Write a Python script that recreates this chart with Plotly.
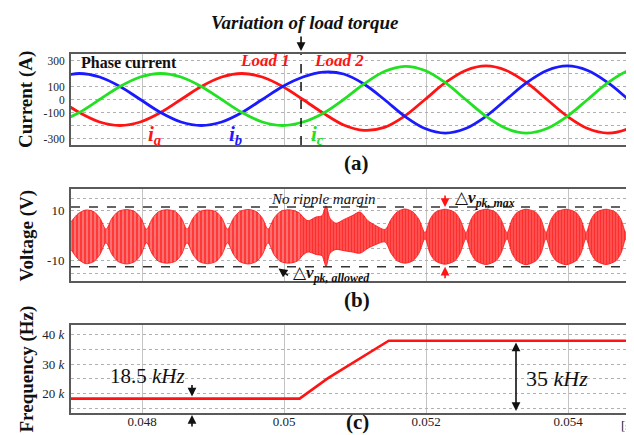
import plotly.graph_objects as go

# ---------------- data ----------------
# (a) phase currents [A]
t_cur = [0.046830, 0.047117, 0.047403, 0.047690, 0.047976, 0.048262, 0.048549, 0.048835,
         0.049122, 0.049408, 0.049694, 0.049981, 0.050267, 0.050554, 0.050840, 0.051126,
         0.051413, 0.051699, 0.051986, 0.052272, 0.052558, 0.052845, 0.053131, 0.053418,
         0.053704, 0.053990, 0.054277, 0.054563, 0.054850, 0.055136]
i_a = [0, -100, -173, -200, -173, -100, 0, 100, 173, 200, 173, 100, 0, -105, -196, -237,
       -215, -128, 0, 129, 223, 258, 223, 129, 0, -129, -223, -258, -223, -129]
i_b = [173, 200, 173, 100, 0, -100, -173, -200, -173, -100, 0, 100, 173, 210, 196, 119,
       0, -128, -223, -258, -223, -129, 0, 129, 223, 258, 223, 129, 0, -129]
i_c = [-173, -100, 0, 100, 173, 200, 173, 100, 0, -100, -173, -200, -173, -105, 0, 119,
       215, 255, 223, 129, 0, -129, -223, -258, -223, -129, 0, 129, 223, 258]
t_load_change = 0.05024

# (b) voltage ripple envelope [V]
t_v = [0.047000, 0.047099, 0.047211, 0.047324, 0.047408, 0.047493, 0.047577, 0.047662,
       0.047782, 0.047901, 0.047986, 0.048063, 0.048148, 0.048232, 0.048352, 0.048472,
       0.048556, 0.048634, 0.048718, 0.048803, 0.048923, 0.049042, 0.049127, 0.049204,
       0.049289, 0.049373, 0.049493, 0.049613, 0.049697, 0.049775, 0.049859, 0.049944,
       0.050063, 0.050183, 0.050239,
       0.050338, 0.050451, 0.050535, 0.050592, 0.050648, 0.050732, 0.050845, 0.050958,
       0.051070, 0.051183, 0.051296, 0.051423, 0.051507, 0.051592, 0.051704, 0.051817,
       0.051901, 0.051986, 0.052056, 0.052127, 0.052268, 0.052408, 0.052479, 0.052563,
       0.052634, 0.052704, 0.052845, 0.052986, 0.053056, 0.053141, 0.053211, 0.053282,
       0.053408, 0.053549, 0.053620, 0.053690, 0.053761, 0.053831, 0.053972, 0.054113,
       0.054183, 0.054254, 0.054324, 0.054394, 0.054535, 0.054676, 0.054746, 0.054817,
       0.054887, 0.054958, 0.055028]
v_up = [5.5, 8.8, 10.3, 9.6, 7.0, 2.6, 7.0, 9.6, 10.5, 9.6, 7.0, 2.6, 7.0, 9.6, 10.4, 9.6,
        7.0, 2.6, 7.0, 9.6, 10.3, 9.6, 7.0, 2.6, 7.0, 9.6, 10.5, 9.6, 7.0, 2.6, 7.0, 9.6,
        10.4, 9.6, 8.4,
        6.0, 7.5, 8.0, 12.0, 7.0, 5.0, 6.5, 8.0, 9.5, 6.0, 4.0, 2.5, 6.5, 9.5, 10.7, 9.5,
        6.5, 1.2, 6.5, 9.3, 10.6, 9.3, 6.5, 1.2, 6.5, 9.3, 10.6, 9.3, 6.5, 1.2, 6.5, 9.3,
        10.6, 9.3, 6.5, 1.2, 6.5, 9.3, 10.6, 9.3, 6.5, 1.2, 6.5, 9.3, 10.6, 9.3, 6.5, 1.2,
        6.5, 9.3, 10.4]
v_lo = [-5.5, -9.3, -11.2, -10.3, -7.5, -2.8, -7.5, -10.3, -11.3, -10.3, -7.5, -2.8, -7.5,
        -10.2, -11.0, -10.2, -7.5, -2.8, -7.5, -10.3, -11.2, -10.3, -7.5, -2.8, -7.5, -10.3,
        -11.3, -10.3, -7.5, -2.8, -7.5, -10.2, -11.0, -10.2, -8.5,
        -6.5, -7.5, -8.0, -12.3, -7.0, -5.5, -6.0, -6.5, -7.0, -5.0, -3.5, -2.5, -7.0, -10.0,
        -11.0, -10.0, -7.0, -1.2, -7.0, -10.0, -11.4, -10.0, -7.0, -1.2, -7.0, -10.0, -11.5,
        -10.0, -7.0, -1.2, -7.0, -10.0, -11.6, -10.0, -7.0, -1.2, -7.0, -10.0, -11.6, -10.0,
        -7.0, -1.2, -7.0, -10.0, -11.5, -10.0, -7.0, -1.2, -7.0, -10.0, -11.2]
ripple_margin = [11.5, -12.4]

# (c) switching frequency [Hz]
t_f = [0.047000, 0.050220, 0.050620, 0.051475, 0.055028]
f_sw = [18200, 18200, 25200, 37950, 37950]

# tick labels
x_ticks = [0.048, 0.050, 0.052, 0.054]
x_ticktext = ["0.048", "0.05", "0.052", "0.054"]
x_unit = "[s]"
ya_ticks = [-300, -200, -100, 0, 100, 200, 300]
ya_text = ["-300", "", "-100", "0", "100", "", "300"]
yb_ticks = [-15, -10, -5, 0, 5, 10, 15]
yb_text = ["", "-10", "", "", "", "10", ""]
yc_ticks = [15000, 20000, 25000, 30000, 35000, 40000]
yc_text = ["", "20 <i>k</i>", "", "30 <i>k</i>", "", "40 <i>k</i>"]

# ---------------- figure ----------------
W, H, ML, MR = 634, 435, 63, 1
PW = W - ML - MR
SERIF = "Times New Roman, Liberation Serif, DejaVu Serif, serif"


def px(x):
    return (x - ML) / PW


def py(y):
    return 1 - y / H


fig = go.Figure()
for y, col in ((i_a, "#ff1414"), (i_b, "#1a1aff"), (i_c, "#22e022")):
    fig.add_trace(go.Scatter(x=t_cur, y=y, mode="lines", xaxis="x", yaxis="y",
                             line=dict(color=col, width=2.8, shape="spline"),
                             showlegend=False, hoverinfo="skip"))

# voltage ripple: two bands (before / after load change) with vertical hatching
for before, size, bg in ((True, 4, "#ff7070"), (False, 3, "#ff5c5c")):
    idx = [k for k, t in enumerate(t_v)
           if (t <= t_load_change + 1e-9) == before or abs(t - 0.050239) < 1e-9]
    ts = [t_v[k] for k in idx]
    up = [v_up[k] for k in idx]
    lo = [v_lo[k] for k in idx]
    fig.add_trace(go.Scatter(x=ts + ts[::-1], y=up + lo[::-1], mode="lines", xaxis="x2", yaxis="y2",
                             fill="toself",
                             line=dict(color="#ff1010", width=0.8, shape="spline", smoothing=0.8),
                             fillpattern=dict(shape="|", size=size, solidity=0.5,
                                              fgcolor="#ff0000", bgcolor=bg),
                             showlegend=False, hoverinfo="skip"))

fig.add_trace(go.Scatter(x=t_f, y=f_sw, mode="lines", xaxis="x3", yaxis="y3",
                         line=dict(color="#ff1414", width=2.6), showlegend=False, hoverinfo="skip"))

xrange_ = [0.047, 0.055028]
ax_common = dict(range=xrange_, tickvals=x_ticks, ticktext=x_ticktext, showgrid=True,
                 gridcolor="#c4c4c4", gridwidth=1, zeroline=False, showline=True, mirror=True,
                 linecolor="#5a5a5a", linewidth=2, ticks="", ticklen=0,
                 tickfont=dict(family=SERIF, size=13, color="#222"))
ay_common = dict(showgrid=True, gridcolor="#b0b0b0", gridwidth=1, griddash="dot", zeroline=False,
                 showline=True, mirror=True, linecolor="#5a5a5a", linewidth=2, ticks="",
                 tickfont=dict(family=SERIF, size=13, color="#222"), ticklabelstandoff=2)

fig.update_layout(
    width=W, height=H, margin=dict(l=ML, r=MR, t=0, b=0),
    paper_bgcolor="white", plot_bgcolor="white", showlegend=False,
    font=dict(family=SERIF),
    xaxis=dict(ax_common, anchor="y", domain=[0, 1], showticklabels=False),
    xaxis2=dict(ax_common, anchor="y2", domain=[0, 1], showticklabels=False, matches="x"),
    xaxis3=dict(ax_common, anchor="y3", domain=[0, 1], matches="x", ticklabelstandoff=-5),
    yaxis=dict(ay_common, anchor="x", domain=[1 - 137 / H, 1 - 46 / H], range=[-350, 350],
               tickvals=ya_ticks, ticktext=ya_text, tickfont=dict(family=SERIF, size=11.5, color="#222")),
    yaxis2=dict(ay_common, anchor="x2", domain=[1 - 273 / H, 1 - 180.7 / H], range=[-18.1, 18.8],
                tickvals=yb_ticks, ticktext=yb_text),
    yaxis3=dict(ay_common, anchor="x3", domain=[1 - 405 / H, 1 - 317.3 / H], range=[13300, 43200],
                tickvals=yc_ticks, ticktext=yc_text),
)

shapes = [dict(type="line", xref="x", yref="y domain", x0=t_load_change, x1=t_load_change,
               y0=0, y1=1, line=dict(color="#111", width=1.5, dash="dash"))]
for m in ripple_margin:
    shapes.append(dict(type="line", xref="x2 domain", yref="y2", x0=0, x1=1, y0=m, y1=m,
                       line=dict(color="#333", width=1.6, dash="dash")))
fig.update_layout(shapes=shapes)

ann = []


def txt(x, y, text, size, color="#111", xanchor="center", angle=0):
    ann.append(dict(xref="paper", yref="paper", x=px(x), y=py(y), text=text, showarrow=False,
                    xanchor=xanchor, yanchor="middle", textangle=angle,
                    font=dict(family=SERIF, size=size, color=color)))


def arrow(x, y, ax, ay, color="#111", side="end", xref="paper", yref="paper"):
    ann.append(dict(xref=xref, yref=yref, x=x, y=y, ax=ax, ay=ay, axref="pixel", ayref="pixel",
                    text="", showarrow=True, arrowhead=2, arrowsize=1.1, arrowwidth=1.6,
                    arrowcolor=color, arrowside=side))


txt(297, 15, "<b><i>Variation of load torque</i></b>", 19)
arrow(t_load_change, py(43), 0, -16, xref="x")
txt(71, 54, "<b>Phase current</b>", 16, xanchor="left")
txt(284, 53, "<b><i>Load 1</i></b>", 17, color="#ff1414", xanchor="right")
txt(304, 53, "<b><i>Load 2</i></b>", 17, color="#ff1414", xanchor="left")
txt(146, 127, "<b><i>i</i></b><sub><b><i>a</i></b></sub>", 21, color="#ff1414")
txt(227, 127, "<b><i>i</i></b><sub><b><i>b</i></b></sub>", 21, color="#1a1aff")
txt(309, 127, "<b><i>i</i></b><sub><b><i>c</i></b></sub>", 21, color="#22e022")
txt(348, 155, "<b>(a)</b>", 21)

txt(261, 190.5, "<i>No ripple margin</i>", 15, xanchor="left")
txt(445, 191, "△<b><i>v</i></b><sub><b><i>pk, max</i></b></sub>", 17, xanchor="left")
arrow(0.052268, ripple_margin[0], 0, -13, color="#ff1414", xref="x2", yref="y2")
arrow(0.052268, ripple_margin[1], 0, 13, color="#ff1414", xref="x2", yref="y2")
arrow(px(270.5), py(260.5), 11, 8)
txt(283, 266, "△<b><i>v</i></b><sub><b><i>pk, allowed</i></b></sub>", 17, xanchor="left")
txt(349, 292, "<b>(b)</b>", 21)

txt(139, 368, "18.5 <i>kHz</i>", 21)
arrow(px(184), py(388.5), 0, -13)
arrow(px(184), py(407), 0, 13)
txt(549, 370, "35 <i>kHz</i>", 22)
arrow(px(508), py(403), 0, -70, side="end+start")
txt(349, 414, "<b>(c)</b>", 21)
ann.append(dict(xref="x3", yref="paper", x=0.05484, y=py(417), text=x_unit, showarrow=False,
                xanchor="center", yanchor="middle", font=dict(family=SERIF, size=13, color="#222")))

txt(18.5, 91.5, "<b>Current (A)</b>", 19, angle=-90)
txt(18.5, 227, "<b>Voltage (V)</b>", 19, angle=-90)
txt(18.5, 361, "<b>Frequency (Hz)</b>", 19, angle=-90)

fig.update_layout(annotations=ann)
fig.write_html("out.html")
